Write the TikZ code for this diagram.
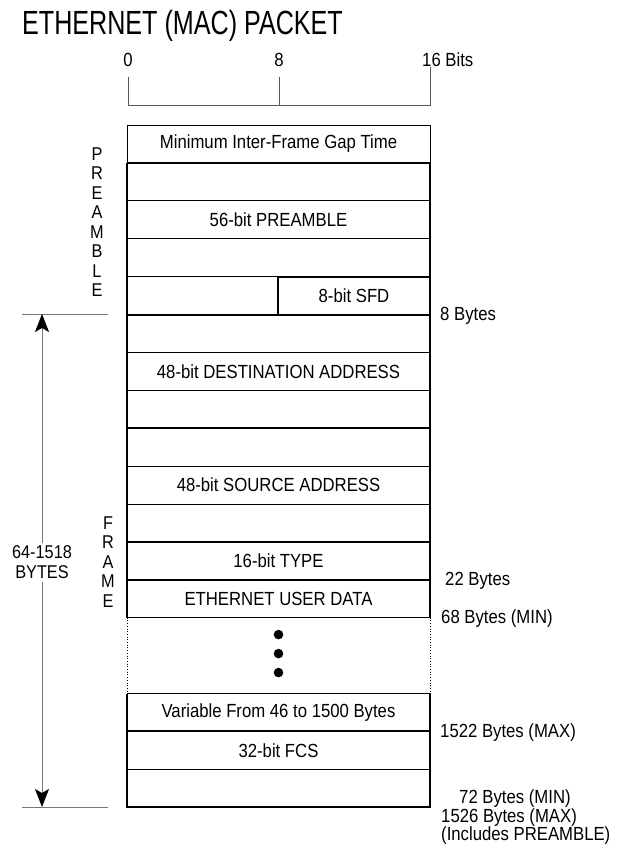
\documentclass[tikz,border=0pt]{standalone}
\usepackage{fontspec}
\setmainfont[FakeStretch=0.88]{Liberation Sans}
\newfontfamily\titlefont[FakeStretch=0.75]{Liberation Sans}
\usetikzlibrary{arrows.meta, positioning}
\definecolor{rulegray}{RGB}{90,90,90}
\definecolor{linegray}{RGB}{120,120,120}

\begin{document}
\begin{tikzpicture}[
  x=1pt, y=-1pt,
  node distance=0pt,
  row/.style={rectangle, draw, line width=0.7pt, outer sep=0pt, inner sep=0pt,
              minimum width=303pt, minimum height=37.9pt, font=\fontsize{19}{21}\selectfont},
  half/.style={row, minimum width=152pt, line width=1.8pt},
  heavy/.style={line width=2pt},
  medium/.style={line width=1pt},
  label/.style={font=\fontsize{19}{21}\selectfont, inner sep=0pt, anchor=west},
  spelled/.style={font=\fontsize{18.5}{19.5}\selectfont, align=center, inner sep=1pt},
  arrow/.style={linegray, line width=1pt, -{Stealth[length=18pt, width=14pt, inset=4pt, black]}},
]
  \useasboundingbox (0,0) rectangle (616,849);

  % title and bit scale
  \node[anchor=base west, inner sep=0pt, font=\titlefont\fontsize{33.5}{36}\selectfont] (title) at (22,34) {ETHERNET (MAC) PACKET};
  \node[label, anchor=center] (bit0) at (128,60) {0};
  \node[label, anchor=center] (bit8) at (279,60) {8};
  \node[label] (bit16) at (422,60) {16 Bits};
  \draw[rulegray, line width=1pt] (128,77) -- (128,105) -- (430,105) -- (430,67);
  \draw[rulegray, line width=1pt] (279,77) -- (279,105);

  % preamble
  \node[row, anchor=north west] (gap) at (127,125) {Minimum Inter-Frame Gap Time};
  \node[row, below=of gap] (pre1) {};
  \node[row, below=of pre1] (pre2) {56-bit PREAMBLE};
  \node[row, below=of pre2] (pre3) {};
  \node[row, below=of pre3] (pre4) {};
  \node[half, anchor=north east] (sfd) at (pre4.north east) {8-bit SFD};

  % frame
  \node[row, below=of pre4] (dst1) {};
  \node[row, below=of dst1] (dst2) {48-bit DESTINATION ADDRESS};
  \node[row, below=of dst2] (dst3) {};
  \node[row, below=of dst3] (src1) {};
  \node[row, below=of src1] (src2) {48-bit SOURCE ADDRESS};
  \node[row, below=of src2] (src3) {};
  \node[row, below=of src3] (type) {16-bit TYPE};
  \node[row, below=of type] (data) {ETHERNET USER DATA};
  \node[row, draw=none, minimum height=75.8pt, below=of data] (dots) {};
  \node[row, below=of dots] (var) {Variable From 46 to 1500 Bytes};
  \node[row, below=of var] (fcs) {32-bit FCS};
  \node[row, below=of fcs] (pad) {};

  \foreach \d in {-17,2,21}
    \fill ([yshift=\d pt] dots.center) circle (4.8pt);
  \draw[dotted, line width=0.7pt] (dots.north west) -- (dots.south west);
  \draw[dotted, line width=0.7pt] (dots.north east) -- (dots.south east);

  % heavy outline
  \draw[heavy] (pre1.north west) -- (data.south west);
  \draw[heavy] (pre1.north east) -- (data.south east);
  \draw[heavy] (var.north west) -- (pad.south west) -- (pad.south east) -- (var.north east);
  \draw[heavy] (gap.south west) -- (gap.south east);
  \draw[heavy] (pre4.south west) -- (pre4.south east);
  \draw[heavy] (dst3.south west) -- (dst3.south east);
  \draw[heavy] (src3.south west) -- (src3.south east);
  \draw[heavy] (type.south west) -- (type.south east);
  \draw[heavy] (var.south west) -- (var.south east);
  \draw[medium] (data.south west) -- (data.south east);
  \draw[medium] (var.north west) -- (var.north east);

  % left side
  \node[spelled] (preword) at (97,222) {P\\R\\E\\A\\M\\B\\L\\E};
  \node[spelled] (frameword) at (108,562) {F\\R\\A\\M\\E};
  \node[spelled, inner sep=3pt] (size) at (42,562) {64-1518\\BYTES};
  \coordinate (ftop) at (42,314);
  \coordinate (fbot) at (42,807);
  \draw[linegray, line width=1pt] ([xshift=-20pt] ftop) -- ([xshift=66pt] ftop);
  \draw[linegray, line width=1pt] ([xshift=-20pt] fbot) -- ([xshift=66pt] fbot);
  \draw[arrow] (size) -- (ftop);
  \draw[arrow] (size) -- (fbot);

  % right side
  \node[label] (len8) at (440,316) {8 Bytes};
  \node[label] (len22) at (445,581) {22 Bytes};
  \node[label] (len68) at (441,619) {68 Bytes (MIN)};
  \node[label] (len1522) at (440,733) {1522 Bytes (MAX)};
  \node[label] (len72) at (459,799) {72 Bytes (MIN)};
  \node[label] (len1526) at (441,818) {1526 Bytes (MAX)};
  \node[label] (incl) at (441,836) {(Includes PREAMBLE)};
\end{tikzpicture}
\end{document}
